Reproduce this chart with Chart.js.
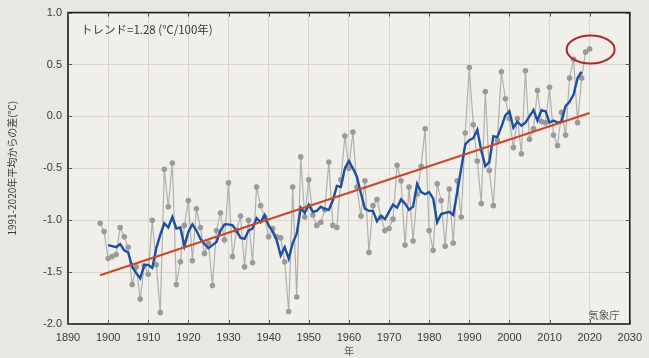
<!DOCTYPE html>
<html lang="ja">
<head>
<meta charset="utf-8">
<title>日本の年平均気温偏差</title>
<script src="https://cdn.jsdelivr.net/npm/chart.js@4/dist/chart.umd.min.js"></script>
<style>
  html, body { margin: 0; padding: 0; background: #e7e6e0; }
  #wrap { width: 649px; height: 358px; }
  canvas { display: block; }
</style>
</head>
<body>
<div id="wrap"><canvas id="c" width="649" height="358"></canvas></div>
<script>
// 日本の年平均気温偏差（1991〜2020年平均からの差, ℃）, 1898〜2020年
const firstYear = 1898;
const anomaly = [
  -1.03, -1.11, -1.37, -1.35, -1.33, -1.07, -1.16, -1.26, -1.62, -1.45,
  -1.76, -1.44, -1.52, -1.00, -1.43, -1.89, -0.51, -0.87, -0.45, -1.62,
  -1.40, -1.05, -0.81, -1.39, -0.89, -1.07, -1.32, -1.22, -1.63, -1.10,
  -0.93, -1.19, -0.64, -1.35, -1.10, -0.96, -1.45, -1.00, -1.41, -0.68,
  -0.86, -0.97, -1.16, -1.08, -1.16, -1.17, -1.40, -1.88, -0.68, -1.74,
  -0.39, -0.97, -0.61, -0.95, -1.05, -1.02, -0.90, -0.44, -1.05, -1.07,
  -0.61, -0.19, -0.50, -0.15, -0.68, -0.96, -0.62, -1.31, -0.86, -0.80,
  -0.97, -1.10, -1.08, -0.99, -0.47, -0.62, -1.24, -0.68, -1.20, -0.75,
  -0.48, -0.12, -1.10, -1.29, -0.65, -0.81, -1.25, -0.70, -1.22, -0.62,
  -0.97, -0.16,  0.47, -0.08, -0.43, -0.84,  0.24, -0.52, -0.86, -0.23,
   0.43,  0.17, -0.02, -0.30, -0.02, -0.36,  0.44, -0.22, -0.12,  0.25,
  -0.05, -0.06,  0.28, -0.18, -0.28,  0.04, -0.18,  0.37,  0.55, -0.06,
   0.37,  0.62,  0.65
];

// 5年移動平均（1900〜2018年）
const smoothFirstYear = 1900;
const movingAvg5 = [
  -1.24, -1.25, -1.26, -1.23, -1.29, -1.31, -1.45, -1.51, -1.56, -1.43,
  -1.43, -1.46, -1.27, -1.14, -1.03, -1.07, -0.97, -1.08, -1.07, -1.25,
  -1.11, -1.04, -1.10, -1.18, -1.23, -1.27, -1.24, -1.21, -1.10, -1.04,
  -1.04, -1.05, -1.10, -1.17, -1.18, -1.10, -1.08, -0.98, -1.02, -0.95,
  -1.05, -1.11, -1.19, -1.34, -1.26, -1.37, -1.22, -1.13, -0.88, -0.93,
  -0.85, -0.92, -0.91, -0.87, -0.89, -0.90, -0.81, -0.67, -0.68, -0.50,
  -0.43, -0.50, -0.58, -0.74, -0.89, -0.91, -0.91, -1.01, -0.96, -0.99,
  -0.92, -0.85, -0.88, -0.80, -0.84, -0.90, -0.87, -0.65, -0.73, -0.75,
  -0.73, -0.79, -1.02, -0.94, -0.93, -0.92, -0.95, -0.73, -0.50, -0.27,
  -0.23, -0.21, -0.13, -0.33, -0.48, -0.44, -0.19, -0.20, -0.10,  0.01,
   0.05, -0.11, -0.05, -0.09, -0.06,  0.00,  0.06, -0.04,  0.06,  0.05,
  -0.06, -0.04, -0.06, -0.05,  0.10,  0.14,  0.21,  0.37,  0.43
];

// 長期変化傾向（℃/100年）
const trendPerCentury = 1.28;
const trendFromYear = 1898;
const trendToYear = 2020;
const trendStartValue = -1.53;

// 強調する年
const highlightYears = [2019, 2020];

// 軸の範囲と目盛
const xRange = [1890, 2030];
const xStep = 10;
const yRange = [-2.0, 1.0];
const yStep = 0.5;

const trendLabel = 'トレンド=' + trendPerCentury.toFixed(2) + ' (℃/100年)';
const sourceLabel = '気象庁';
const yTitle = '1991-2020年平均からの差(℃)';
const xTitle = '年';

const annualPoints = anomaly.map((v, i) => ({ x: firstYear + i, y: v }));
const smoothPoints = movingAvg5.map((v, i) => ({ x: smoothFirstYear + i, y: v }));
const trendPoints = [
  { x: trendFromYear, y: trendStartValue },
  { x: trendToYear, y: trendStartValue + trendPerCentury * (trendToYear - trendFromYear) / 100 }
];

const PAGE_BG = '#e8e7e1';
const PLOT_BG = '#f0efea';
const INK = '#3a3a3a';

const decor = {
  id: 'decor',
  beforeDraw(chart) {
    const { ctx, chartArea: a } = chart;
    ctx.save();
    ctx.fillStyle = PAGE_BG;
    ctx.fillRect(0, 0, chart.width, chart.height);
    ctx.fillStyle = PLOT_BG;
    ctx.fillRect(a.left, a.top, a.right - a.left, a.bottom - a.top);
    ctx.restore();
  },
  afterDatasetsDraw(chart) {
    const { ctx, chartArea: a, scales: { x, y } } = chart;
    ctx.save();
    // 枠
    ctx.strokeStyle = '#1c1c1c';
    ctx.lineWidth = 1.6;
    ctx.strokeRect(a.left, a.top, a.right - a.left, a.bottom - a.top);
    // 内向きの目盛線
    ctx.lineWidth = 1;
    ctx.strokeStyle = '#555';
    ctx.beginPath();
    x.ticks.forEach(t => {
      const px = Math.round(x.getPixelForValue(t.value)) + 0.5;
      ctx.moveTo(px, a.top); ctx.lineTo(px, a.top + 4);
      ctx.moveTo(px, a.bottom); ctx.lineTo(px, a.bottom - 4);
    });
    y.ticks.forEach(t => {
      const py = Math.round(y.getPixelForValue(t.value)) + 0.5;
      ctx.moveTo(a.left, py); ctx.lineTo(a.left + 4, py);
      ctx.moveTo(a.right, py); ctx.lineTo(a.right - 4, py);
    });
    ctx.stroke();

    // トレンドの注記
    ctx.fillStyle = '#3a3a3a';
    ctx.font = '11.5px "Noto Sans CJK JP"';
    ctx.textBaseline = 'middle';
    ctx.textAlign = 'left';
    ctx.fillText(trendLabel, a.left + 13, a.top + 17);

    // 出典
    ctx.fillStyle = '#5a5a5a';
    ctx.font = '10.5px "Noto Sans CJK JP"';
    ctx.textAlign = 'right';
    ctx.fillText(sourceLabel, a.right - 10, a.bottom - 9);

    // 直近2年を囲む楕円
    const xs = highlightYears.map(yr => x.getPixelForValue(yr));
    const ys = highlightYears.map(yr => y.getPixelForValue(anomaly[yr - firstYear]));
    const cx = (xs[0] + xs[1]) / 2 + 3;
    const cy = (ys[0] + ys[1]) / 2 - 1;
    ctx.strokeStyle = '#b0262b';
    ctx.lineWidth = 2;
    ctx.beginPath();
    ctx.ellipse(cx, cy, 24, 14, 0, 0, Math.PI * 2);
    ctx.stroke();
    ctx.restore();
  }
};

new Chart(document.getElementById('c'), {
  type: 'scatter',
  data: {
    datasets: [
      {
        label: '年平均気温偏差',
        data: annualPoints,
        showLine: true,
        borderColor: '#b0b0b0',
        borderWidth: 1.2,
        pointRadius: 2.8,
        pointBackgroundColor: '#9a9a9a',
        pointBorderWidth: 0,
        order: 3
      },
      {
        label: '5年移動平均',
        data: smoothPoints,
        showLine: true,
        borderColor: '#1d4f9f',
        borderWidth: 2.4,
        pointRadius: 0,
        tension: 0,
        order: 2
      },
      {
        label: 'トレンド',
        data: trendPoints,
        showLine: true,
        borderColor: '#c6482b',
        borderWidth: 2.1,
        pointRadius: 0,
        order: 1
      }
    ]
  },
  options: {
    responsive: false,
    devicePixelRatio: 1,
    animation: false,
    layout: { padding: { top: 10, right: 15, left: 0, bottom: 0 } },
    plugins: {
      legend: { display: false },
      tooltip: { enabled: false }
    },
    scales: {
      x: {
        type: 'linear',
        min: xRange[0],
        max: xRange[1],
        border: { display: false },
        grid: { color: '#d8d6cf', lineWidth: 1, drawTicks: false },
        ticks: {
          stepSize: xStep,
          padding: 7,
          color: INK,
          font: { family: '"Liberation Sans", Arial, sans-serif', size: 11 },
          callback: v => String(v)
        },
        title: {
          display: true,
          text: xTitle,
          color: '#555',
          padding: { top: 0, bottom: 1 },
          font: { family: '"Noto Sans CJK JP"', size: 10 }
        },
        afterFit(s) { s.height = 34; }
      },
      y: {
        min: yRange[0],
        max: yRange[1],
        border: { display: false },
        grid: { color: '#d8d6cf', lineWidth: 1, drawTicks: false },
        ticks: {
          stepSize: yStep,
          padding: 6,
          color: INK,
          font: { family: '"Liberation Sans", Arial, sans-serif', size: 11 },
          callback: v => Number(v).toFixed(1)
        },
        title: {
          display: true,
          text: yTitle,
          color: INK,
          padding: { top: 6, bottom: 0 },
          font: { family: '"Noto Sans CJK JP"', size: 10 }
        },
        afterFit(s) { s.width = 68; }
      }
    }
  },
  plugins: [decor]
});
</script>
</body>
</html>
